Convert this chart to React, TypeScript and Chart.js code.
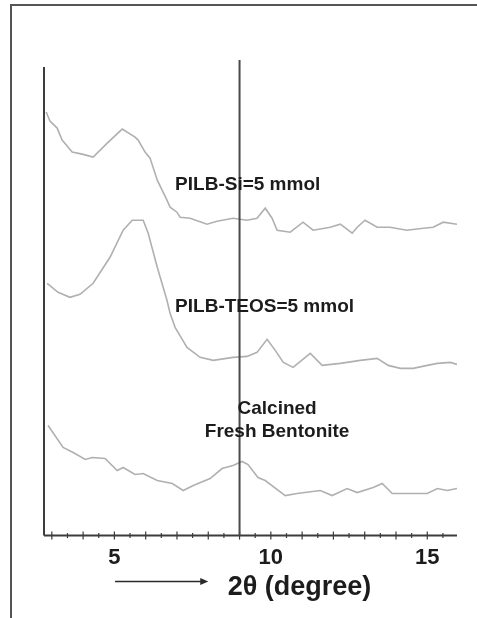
import React, { useEffect, useRef } from 'react';
import { Chart, registerables } from 'chart.js';

Chart.register(...registerables);

// PILB-Si=5 mmol (top pattern)
const siTheta = [2.82, 2.94, 3.17, 3.33, 3.65, 3.97, 4.32, 4.77, 5.25, 5.66, 5.76, 5.98, 6.14, 6.37, 6.68, 6.78, 7.0, 7.1, 7.42, 7.96, 8.28, 8.79, 9.24, 9.56, 9.82, 10.04, 10.2, 10.62, 11.03, 11.35, 11.9, 12.22, 12.6, 12.76, 13.01, 13.4, 13.81, 14.35, 14.87, 15.19, 15.51, 15.95];
const siIntensity = [423, 414, 407, 395, 383, 381, 378, 392, 406, 398, 395, 383, 377, 355, 335, 328, 323, 318, 317, 311, 314, 317, 315, 317, 327, 317, 305, 303, 313, 305, 308, 311, 302, 308, 315, 308, 308, 305, 307, 308, 313, 311];

// PILB-TEOS=5 mmol (middle pattern)
const teosTheta = [2.85, 3.2, 3.58, 3.9, 4.32, 4.86, 5.28, 5.57, 5.92, 6.08, 6.37, 6.68, 6.78, 6.94, 7.32, 7.74, 8.16, 8.79, 9.24, 9.56, 9.88, 10.14, 10.4, 10.71, 11.26, 11.64, 12.22, 12.86, 13.4, 13.75, 14.14, 14.55, 15.0, 15.32, 15.74, 15.95];
const teosIntensity = [252, 243, 238, 241, 252, 278, 305, 315, 315, 302, 268, 235, 222, 208, 188, 178, 175, 178, 179, 183, 196, 185, 173, 168, 182, 170, 172, 175, 177, 170, 167, 167, 170, 172, 173, 171];

// Calcined Fresh Bentonite (bottom pattern)
const freshTheta = [2.88, 3.36, 3.68, 4.07, 4.29, 4.7, 5.09, 5.28, 5.66, 5.92, 6.37, 6.85, 7.2, 7.52, 8.06, 8.44, 8.79, 9.08, 9.27, 9.59, 9.82, 10.46, 10.84, 11.58, 11.96, 12.44, 12.76, 13.27, 13.56, 13.88, 14.46, 15.0, 15.32, 15.64, 15.95];
const freshIntensity = [110, 88, 83, 76, 78, 77, 65, 68, 61, 62, 55, 52, 45, 50, 57, 67, 70, 74, 71, 58, 55, 40, 42, 45, 40, 47, 43, 48, 52, 42, 42, 42, 47, 45, 47];

const seriesNames = ['PILB-Si=5 mmol', 'PILB-TEOS=5 mmol', 'Calcined Fresh Bentonite'];
const tickLabels = ['5', '10', '15'];
const referenceLine = 9;
const axisTitle = '2\u03b8 (degree)';

const FONT = '"Liberation Sans", Arial, Helvetica, sans-serif';

const toPoints = (xs: number[], ys: number[]) => xs.map((x, i) => ({ x, y: ys[i] }));

const decorPlugin = {
  id: 'decor',
  afterDatasetsDraw(chart: any) {
    const { ctx, chartArea, scales } = chart;
    const { left, right, top, bottom } = chartArea;
    const x = scales.x;
    const y = scales.y;
    ctx.save();
    ctx.strokeStyle = '#3c3c3c';
    ctx.lineWidth = 2;
    // left axis
    ctx.beginPath();
    ctx.moveTo(left, top);
    ctx.lineTo(left, bottom);
    ctx.stroke();
    // bottom axis
    ctx.beginPath();
    ctx.moveTo(left, bottom);
    ctx.lineTo(right, bottom);
    ctx.stroke();
    // ticks crossing the axis
    ctx.lineWidth = 1.2;
    x.ticks.forEach((t: any) => {
      const px = x.getPixelForValue(t.value);
      const major = Number.isInteger(t.value);
      const h = major ? 4 : 2.5;
      ctx.beginPath();
      ctx.moveTo(px, bottom - h);
      ctx.lineTo(px, bottom + h);
      ctx.stroke();
    });
    // reference vertical line
    const rx = x.getPixelForValue(referenceLine);
    ctx.strokeStyle = '#4a4a4a';
    ctx.lineWidth = 2;
    ctx.beginPath();
    ctx.moveTo(rx, top - 7);
    ctx.lineTo(rx, bottom);
    ctx.stroke();

    // pattern labels
    ctx.fillStyle = '#1c1c1c';
    ctx.font = `bold 19px ${FONT}`;
    ctx.textBaseline = 'middle';
    ctx.textAlign = 'left';
    ctx.fillText(seriesNames[0], x.getPixelForValue(6.94), y.getPixelForValue(350));
    ctx.fillText(seriesNames[1], x.getPixelForValue(6.94), y.getPixelForValue(229));
    ctx.textAlign = 'center';
    const [w1, ...rest] = seriesNames[2].split(' ');
    ctx.fillText(w1, x.getPixelForValue(10.2), y.getPixelForValue(127));
    ctx.fillText(rest.join(' '), x.getPixelForValue(10.2), y.getPixelForValue(104));

    // axis title with arrow
    const ay = bottom + 46;
    const ax0 = x.getPixelForValue(5.02);
    const ax1 = x.getPixelForValue(8.0);
    ctx.strokeStyle = '#2a2a2a';
    ctx.fillStyle = '#2a2a2a';
    ctx.lineWidth = 1.5;
    ctx.beginPath();
    ctx.moveTo(ax0, ay);
    ctx.lineTo(ax1 - 6, ay);
    ctx.stroke();
    ctx.beginPath();
    ctx.moveTo(ax1, ay);
    ctx.lineTo(ax1 - 8, ay - 3.5);
    ctx.lineTo(ax1 - 8, ay + 3.5);
    ctx.closePath();
    ctx.fill();
    ctx.fillStyle = '#1c1c1c';
    ctx.font = `bold 27px ${FONT}`;
    ctx.textAlign = 'left';
    ctx.fillText(axisTitle, x.getPixelForValue(8.62), bottom + 52);
    ctx.restore();
  },
};

export default function App() {
  const canvasRef = useRef<HTMLCanvasElement | null>(null);

  useEffect(() => {
    document.body.style.margin = '0';
    const canvas = canvasRef.current;
    if (!canvas) return;
    const lineStyle = {
      borderColor: '#b0b0b0',
      borderWidth: 1.6,
      pointRadius: 0,
      tension: 0,
      fill: false,
    };
    const chart = new Chart(canvas, {
      type: 'line',
      data: {
        datasets: [
          { label: seriesNames[0], data: toPoints(siTheta, siIntensity), ...lineStyle },
          { label: seriesNames[1], data: toPoints(teosTheta, teosIntensity), ...lineStyle },
          { label: seriesNames[2], data: toPoints(freshTheta, freshIntensity), ...lineStyle },
        ],
      },
      options: {
        animation: false,
        responsive: false,
        devicePixelRatio: 1,
        layout: { padding: { left: 44, right: 20, top: 67, bottom: 46 } },
        plugins: { legend: { display: false }, tooltip: { enabled: false }, title: { display: false } },
        scales: {
          x: {
            type: 'linear',
            min: 2.75,
            max: 15.95,
            afterBuildTicks: (s: any) => {
              const t: any[] = [];
              for (let v = 3; v <= 15.5 + 1e-9; v += 0.5) t.push({ value: Math.round(v * 10) / 10 });
              s.ticks = t;
            },
            ticks: {
              autoSkip: false,
              maxRotation: 0,
              padding: 1,
              color: '#1c1c1c',
              font: { family: FONT, size: 22, weight: 'bold' },
              callback: (v: any) => (tickLabels.includes(String(v)) ? String(v) : ''),
            },
            grid: { display: false },
            border: { display: false },
          },
          y: {
            display: false,
            min: 0,
            max: 468,
          },
        },
      },
      plugins: [decorPlugin],
    } as any);
    return () => chart.destroy();
  }, []);

  return (
    <div style={{ position: 'relative', width: 477, height: 618, overflow: 'hidden', background: '#fff' }}>
      <canvas ref={canvasRef} width={477} height={618} style={{ display: 'block', position: 'absolute', left: 0, top: 0 }} />
      <div
        style={{
          position: 'absolute',
          left: 10,
          top: 4,
          width: 480,
          height: 630,
          borderTop: '2px solid #555',
          borderLeft: '2px solid #555',
          pointerEvents: 'none',
        }}
      />
    </div>
  );
}
